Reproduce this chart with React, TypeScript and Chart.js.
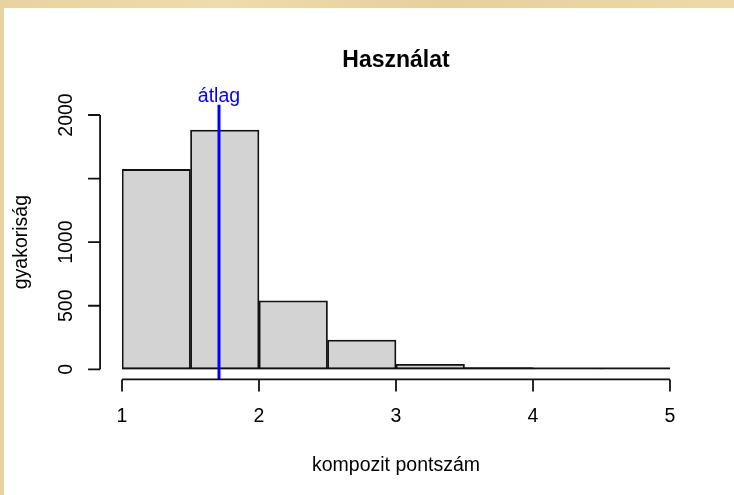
import React, { useEffect, useRef } from "react";
import { Chart, registerables } from "chart.js";

Chart.register(...registerables);

// ---- data ----
const binStarts = [1, 1.5, 2, 2.5, 3, 3.5, 4, 4.5];
const binWidth = 0.5;
const counts = [1572, 1881, 539, 230, 40, 14, 2, 1];
const xTicks = [1, 2, 3, 4, 5];
const xTickLabels = ["1", "2", "3", "4", "5"];
const yTicks = [0, 500, 1000, 1500, 2000];
const yTickLabels = ["0", "500", "1000", "", "2000"];
const xLimits = [1, 5];
const yLimits = [0, 2000];
const meanValue = 1.708;
const titleText = "Használat";
const xTitle = "kompozit pontszám";
const yTitle = "gyakoriság";
const meanLabel = "átlag";

const FONT = '"Liberation Sans", Arial, sans-serif';
const AXIS_COLOR = "#111111";
const LW = 1.8;

const rPlot = {
  id: "rPlot",
  afterDatasetsDraw(chart: any) {
    const ctx = chart.ctx as CanvasRenderingContext2D;
    const xs = chart.scales.x;
    const ys = chart.scales.y;
    const xr = xLimits[1] - xLimits[0];
    const yr = yLimits[1] - yLimits[0];
    const usrX0 = xLimits[0] - 0.04 * xr;
    const usrY0 = yLimits[0] - 0.04 * yr;
    const usrY1 = yLimits[1] + 0.04 * yr;

    ctx.save();
    // bottom edge of histogram bars
    const y0 = ys.getPixelForValue(0);
    ctx.strokeStyle = AXIS_COLOR;
    ctx.lineWidth = LW;
    ctx.beginPath();
    ctx.moveTo(xs.getPixelForValue(binStarts[0]), y0 - LW / 2);
    ctx.lineTo(xs.getPixelForValue(binStarts[binStarts.length - 1] + binWidth), y0 - LW / 2);
    ctx.stroke();

    // mean line
    const mx = xs.getPixelForValue(meanValue);
    const topY = ys.getPixelForValue(usrY1);
    const botY = ys.getPixelForValue(usrY0);
    ctx.strokeStyle = "#0000ff";
    ctx.lineWidth = 3;
    ctx.beginPath();
    ctx.moveTo(mx, topY);
    ctx.lineTo(mx, botY);
    ctx.stroke();
    ctx.fillStyle = "#0000ff";
    ctx.font = `19.5px ${FONT}`;
    ctx.textAlign = "center";
    ctx.textBaseline = "alphabetic";
    ctx.fillText(meanLabel, mx, topY - 3);

    // x axis
    const axY = botY;
    ctx.strokeStyle = AXIS_COLOR;
    ctx.lineWidth = LW;
    ctx.beginPath();
    ctx.moveTo(xs.getPixelForValue(xTicks[0]), axY);
    ctx.lineTo(xs.getPixelForValue(xTicks[xTicks.length - 1]), axY);
    xTicks.forEach((t) => {
      const px = xs.getPixelForValue(t);
      ctx.moveTo(px, axY);
      ctx.lineTo(px, axY + 12);
    });
    ctx.stroke();
    ctx.fillStyle = "#000";
    ctx.font = `19.5px ${FONT}`;
    ctx.textAlign = "center";
    xTicks.forEach((t, i) => {
      ctx.fillText(xTickLabels[i], xs.getPixelForValue(t), axY + 42.5);
    });

    // y axis
    const axX = xs.getPixelForValue(usrX0);
    ctx.beginPath();
    ctx.moveTo(axX, ys.getPixelForValue(yTicks[0]));
    ctx.lineTo(axX, ys.getPixelForValue(yTicks[yTicks.length - 1]));
    yTicks.forEach((t) => {
      const py = ys.getPixelForValue(t);
      ctx.moveTo(axX, py);
      ctx.lineTo(axX - 12, py);
    });
    ctx.stroke();
    yTicks.forEach((t, i) => {
      if (!yTickLabels[i]) return;
      const py = ys.getPixelForValue(t);
      ctx.save();
      ctx.translate(axX - 28, py);
      ctx.rotate(-Math.PI / 2);
      ctx.textAlign = "center";
      ctx.textBaseline = "alphabetic";
      ctx.fillText(yTickLabels[i], 0, 0);
      ctx.restore();
    });

    // titles
    const cx = xs.getPixelForValue((xLimits[0] + xLimits[1]) / 2);
    ctx.textAlign = "center";
    ctx.textBaseline = "alphabetic";
    ctx.font = `19.5px ${FONT}`;
    ctx.fillText(xTitle, cx, axY + 92);
    ctx.save();
    ctx.translate(23, ys.getPixelForValue((yLimits[0] + yLimits[1]) / 2));
    ctx.rotate(-Math.PI / 2);
    ctx.fillText(yTitle, 0, 0);
    ctx.restore();
    ctx.font = `bold 23px ${FONT}`;
    ctx.fillText(titleText, cx, 58.5);

    ctx.restore();
  },
};

export default function App() {
  const ref = useRef<HTMLCanvasElement | null>(null);

  useEffect(() => {
    document.body.style.margin = "0";
    const canvas = ref.current;
    if (!canvas) return;
    const chart = new Chart(canvas, {
      type: "bar",
      data: {
        datasets: [
          {
            data: binStarts.map((s, i) => ({ x: s + binWidth / 2, y: counts[i] })),
            backgroundColor: "#d3d3d3",
            borderColor: AXIS_COLOR,
            borderWidth: LW,
            borderSkipped: false,
            barPercentage: 1,
            categoryPercentage: 1,
          },
        ],
      },
      options: {
        animation: false,
        responsive: false,
        devicePixelRatio: 1,
        layout: { padding: { left: 118, right: 64, top: 107, bottom: 125.7 } },
        plugins: { legend: { display: false }, tooltip: { enabled: false }, title: { display: false } },
        scales: {
          x: { type: "linear", min: xLimits[0], max: xLimits[1], offset: false, display: false },
          y: { type: "linear", min: yLimits[0], max: yLimits[1], display: false },
        },
      },
      plugins: [rPlot],
    });
    return () => chart.destroy();
  }, []);

  return (
    <div
      style={{
        position: "fixed",
        left: 0,
        top: 0,
        width: 734,
        height: 495,
        background: "linear-gradient(90deg, #e8d3a0, #efdcab 30%, #e6d09c 60%, #eddaa8)",
        overflow: "hidden",
      }}
    >
      <canvas
        ref={ref}
        width={730}
        height={487}
        style={{ position: "absolute", left: 4, top: 8, width: 730, height: 487, background: "#ffffff" }}
      />
    </div>
  );
}
